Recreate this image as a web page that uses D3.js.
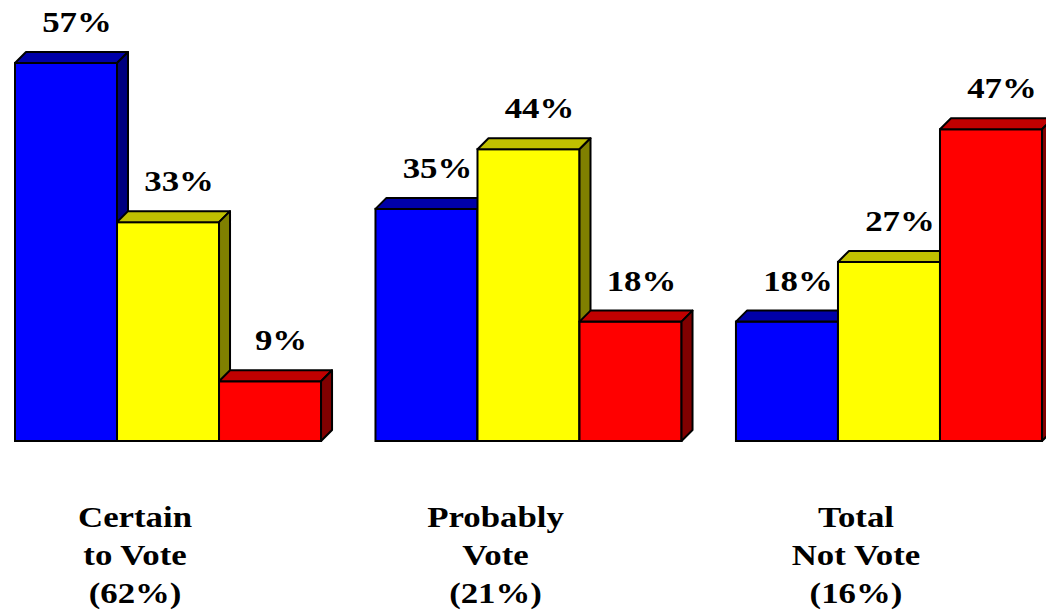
<!doctype html>
<html>
<head>
    <script src="https://cdnjs.cloudflare.com/ajax/libs/d3/7.8.5/d3.min.js"></script>
    <style>
        body { margin: 0; background: #fff; }
        svg { display: block; }
        text { font-family: "Liberation Serif", "Times New Roman", serif; font-weight: bold; fill: #000; }
    </style>
</head>
<body>
<svg width="1046" height="613"></svg>
<script>
    // data
    var groups = ["Certain to Vote", "Probably Vote", "Total Not Vote"];
    var groupLines = [["Certain", "to Vote", "(62%)"], ["Probably", "Vote", "(21%)"], ["Total", "Not Vote", "(16%)"]];
    var series = ["s1", "s2", "s3"];
    var values = [
        [57, 33, 9],
        [35, 44, 18],
        [18, 27, 47]
    ];
    var frontColors = ["#0000ff", "#ffff00", "#ff0000"];
    var topColors = ["#0000a8", "#c0c000", "#c00000"];
    var sideColors = ["#000080", "#808000", "#800000"];

    var svg = d3.select("svg");
    var depth = 11;
    var stretch = 1.2;

    var x0 = d3.scaleBand().domain(groups).range([15, 1042]).paddingInner(0.151).paddingOuter(0);
    var x1 = d3.scaleBand().domain(series).range([0, x0.bandwidth()]).padding(0);
    var y = d3.scaleLinear().domain([0, 60]).range([441, 441 - 60 * 6.632]);

    var g = svg.selectAll(".grp")
        .data(groups)
        .enter().append("g")
        .attr("class", "grp")
        .attr("transform", function (d) { return "translate(" + x0(d) + ",0)"; });

    g.each(function (gname, gi) {
        var sel = d3.select(this);
        series.forEach(function (s, si) {
            var v = values[gi][si];
            var xl = x1(s), xr = x1(s) + x1.bandwidth();
            var yt = y(v), yb = y(0);
            var bar = sel.append("g");
            // front
            bar.append("rect")
                .attr("x", xl).attr("y", yt)
                .attr("width", xr - xl).attr("height", yb - yt)
                .attr("fill", frontColors[si])
                .attr("stroke", "#000").attr("stroke-width", 2);
            // top face
            bar.append("path")
                .attr("d", "M" + xl + "," + yt + "L" + (xl + depth) + "," + (yt - depth) +
                    "L" + (xr + depth) + "," + (yt - depth) + "L" + xr + "," + yt + "Z")
                .attr("fill", topColors[si])
                .attr("stroke", "#000").attr("stroke-width", 2).attr("stroke-linejoin", "round");
            // side face
            bar.append("path")
                .attr("d", "M" + xr + "," + yt + "L" + (xr + depth) + "," + (yt - depth) +
                    "L" + (xr + depth) + "," + (yb - depth) + "L" + xr + "," + yb + "Z")
                .attr("fill", sideColors[si])
                .attr("stroke", "#000").attr("stroke-width", 2).attr("stroke-linejoin", "round");
        });
        // value labels on top
        series.forEach(function (s, si) {
            var v = values[gi][si];
            var cx = x1(s) + x1.bandwidth() / 2 + depth;
            sel.append("text")
                .attr("transform", "translate(" + cx + "," + (y(v) - 31) + ") scale(" + stretch + ",1)")
                .attr("text-anchor", "middle")
                .style("font-size", "29px")
                .text(v + "%");
        });
        // category label
        var lx = x0.bandwidth() / 2 - 33;
        groupLines[gi].forEach(function (line, li) {
            sel.append("text")
                .attr("transform", "translate(" + lx + "," + (527 + li * 38) + ") scale(" + stretch + ",1)")
                .attr("text-anchor", "middle")
                .style("font-size", "29px")
                .text(line);
        });
    });
</script>
</body>
</html>
